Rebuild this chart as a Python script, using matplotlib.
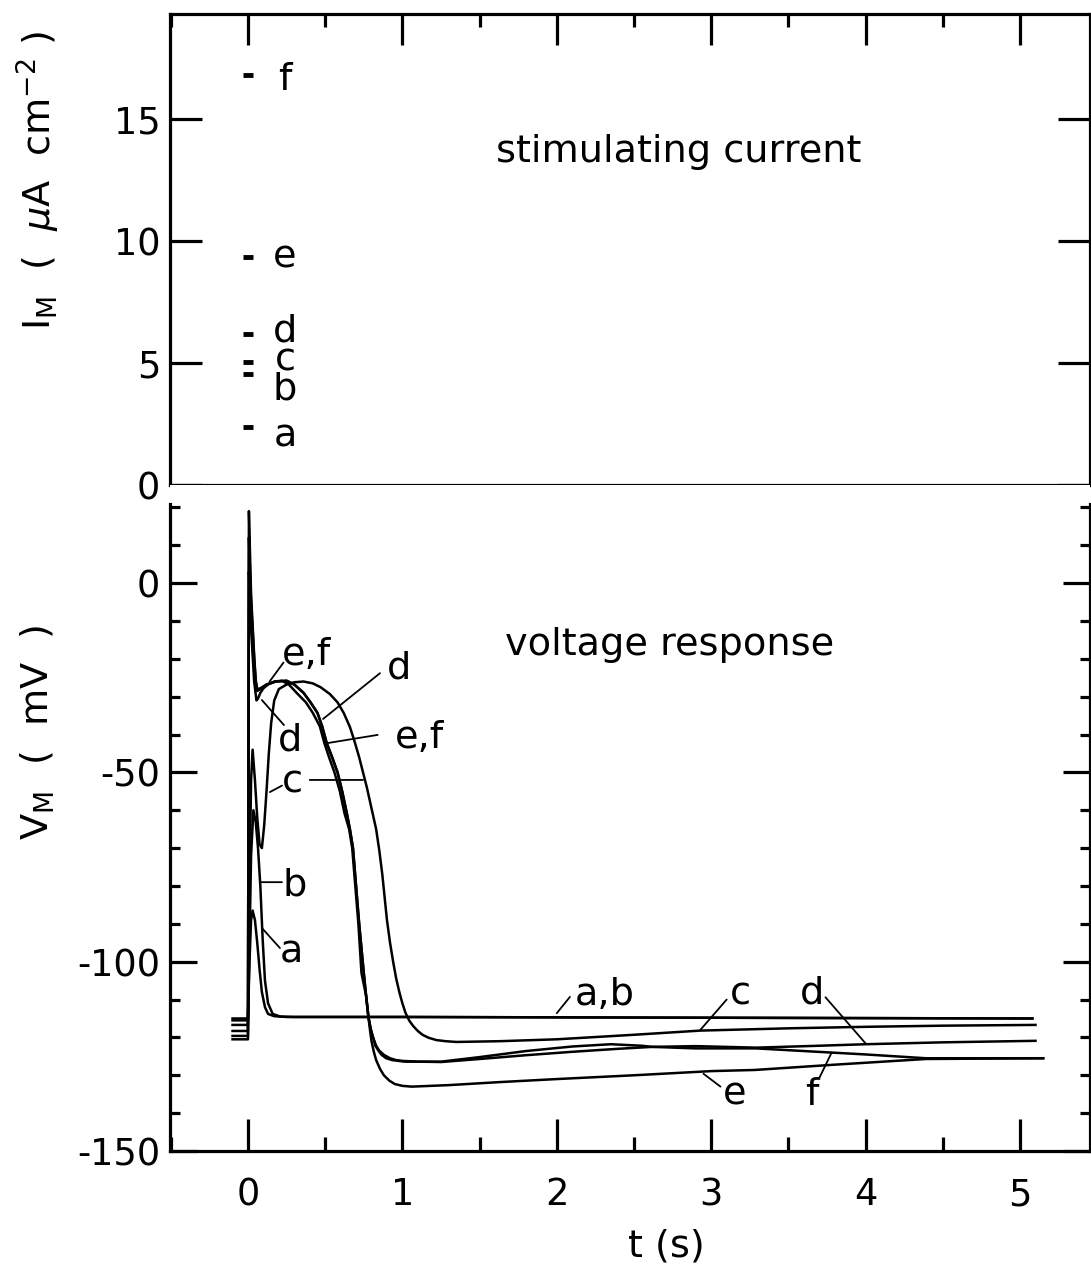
import numpy as np
import matplotlib
matplotlib.use("Agg")
import matplotlib.pyplot as plt
from matplotlib.ticker import MultipleLocator

plt.rcParams['font.family'] = ['DejaVu Sans']
plt.rcParams['axes.unicode_minus'] = False
plt.rcParams['mathtext.fontset'] = 'dejavusans'

# stimulating current amplitudes (uA/cm2), short pulses at t = 0
stim_names = ['a', 'b', 'c', 'd', 'e', 'f']
stim_levels = [2.38, 4.53, 5.06, 6.19, 9.34, 16.8]
stim_t0, stim_t1 = -0.03, 0.03

# membrane voltage responses (t in s, V in mV)
t_a = [-0.1, 0.0, 0.01, 0.02, 0.03, 0.045, 0.06, 0.075, 0.09, 0.11, 0.13, 0.17, 0.25, 1.0, 2.0, 3.0, 4.0, 5.08]
v_a = [-115.0, -115.0, -100.0, -89.0, -86.5, -89.0, -95.0, -102.0, -108.0, -112.0, -113.8, -114.4, -114.6,
       -114.6, -114.7, -114.8, -114.9, -115.0]

t_b = [-0.1, 0.0, 0.01, 0.02, 0.035, 0.05, 0.065, 0.08, 0.095, 0.11, 0.13, 0.16, 0.21, 0.3, 1.0, 3.0, 5.08]
v_b = [-115.5, -115.5, -95.0, -72.0, -60.0, -63.0, -70.0, -80.0, -94.0, -105.0, -111.0, -113.8, -114.5,
       -114.6, -114.6, -114.8, -115.0]

t_c = [-0.1, 0.0, 0.01, 0.02, 0.03, 0.045, 0.06, 0.075, 0.09, 0.105, 0.12, 0.135, 0.15, 0.17, 0.2, 0.25, 0.3,
       0.36, 0.42, 0.47, 0.53, 0.58, 0.62, 0.66, 0.69, 0.72, 0.745, 0.77, 0.8, 0.83, 0.85, 0.87, 0.885, 0.9,
       0.92, 0.94, 0.96, 0.98, 1.0, 1.02, 1.045, 1.07, 1.1, 1.13, 1.17, 1.22, 1.28, 1.35, 1.63, 2.0, 2.5,
       2.93, 3.5, 4.0, 4.5, 5.1]
v_c = [-116.7, -116.7, -80.0, -52.0, -44.0, -52.0, -62.0, -69.0, -70.0, -64.0, -55.0, -45.0, -37.0, -31.0,
       -28.0, -26.8, -26.2, -26.0, -26.5, -27.5, -29.3, -31.5, -34.3, -38.0, -41.8, -46.0, -50.0, -54.0,
       -59.5, -65.0, -70.5, -77.0, -83.0, -89.0, -95.0, -100.0, -104.5, -108.0, -111.0, -113.5, -115.6,
       -117.0, -118.3, -119.3, -120.1, -120.7, -121.0, -121.2, -121.0, -120.5, -119.3, -118.2, -117.6,
       -117.2, -116.9, -116.7]

t_d = [-0.1, 0.0, 0.006, 0.02, 0.04, 0.055, 0.065, 0.08, 0.1, 0.13, 0.17, 0.22, 0.265, 0.315, 0.375, 0.42,
       0.465, 0.495, 0.525, 0.56, 0.595, 0.625, 0.655, 0.675, 0.695, 0.715, 0.735, 0.765, 0.78, 0.795,
       0.81, 0.825, 0.845, 0.865, 0.895, 0.935, 0.975, 1.015, 1.1, 1.25, 1.5, 1.8, 2.1, 2.4, 2.62, 2.9,
       3.29, 3.7, 4.0, 4.5, 5.1]
v_d = [-118.3, -118.3, 3.0, -12.0, -26.0, -31.0, -30.5, -29.0, -27.8, -26.8, -26.0, -25.8, -26.8, -29.0,
       -31.5, -34.3, -37.8, -42.3, -46.0, -50.0, -55.0, -60.8, -65.0, -70.0, -80.0, -90.0, -103.0, -109.0,
       -114.6, -117.8, -120.0, -122.2, -123.5, -124.6, -125.5, -126.0, -126.2, -126.4, -126.4, -126.5,
       -125.7, -124.7, -123.8, -123.0, -122.5, -122.3, -122.7, -122.2, -121.8, -121.3, -120.9]

t_e = [-0.1, 0.0, 0.006, 0.02, 0.04, 0.05, 0.06, 0.08, 0.12, 0.18, 0.25, 0.3, 0.36, 0.405, 0.45, 0.48, 0.51,
       0.545, 0.58, 0.61, 0.64, 0.66, 0.68, 0.7, 0.72, 0.75, 0.765, 0.78, 0.79, 0.8, 0.815, 0.83, 0.855,
       0.88, 0.915, 0.95, 1.0, 1.06, 1.3, 1.63, 2.0, 2.5, 3.0, 3.28, 3.8, 4.39, 5.15]
v_e = [-119.6, -119.6, 12.0, -5.0, -20.0, -26.0, -28.5, -28.0, -26.8, -26.0, -25.8, -26.8, -29.0, -31.5,
       -34.3, -37.8, -42.3, -46.0, -50.0, -55.0, -60.8, -65.0, -70.0, -80.0, -90.0, -103.0, -109.0, -114.6,
       -118.0, -121.0, -123.8, -126.0, -128.3, -130.0, -131.4, -132.3, -132.8, -133.0, -132.6, -131.8,
       -131.0, -130.0, -128.9, -128.6, -127.2, -125.7, -125.5]

t_f = [-0.1, 0.0, 0.006, 0.02, 0.04, 0.05, 0.06, 0.08, 0.12, 0.18, 0.25, 0.3, 0.36, 0.405, 0.45, 0.48, 0.51,
       0.545, 0.58, 0.61, 0.64, 0.66, 0.68, 0.7, 0.72, 0.75, 0.765, 0.78, 0.795, 0.81, 0.83, 0.85, 0.88,
       0.92, 0.96, 1.0, 1.1, 1.25, 1.5, 1.8, 2.1, 2.35, 2.55, 2.62, 2.9, 3.29, 3.6, 4.0, 4.39, 5.15]
v_f = [-120.5, -120.5, 19.0, -3.0, -19.0, -25.5, -28.0, -27.8, -26.8, -26.0, -25.8, -26.8, -29.0, -31.5,
       -34.3, -37.8, -42.3, -46.0, -50.0, -55.0, -60.8, -65.0, -70.0, -80.0, -90.0, -103.0, -109.0, -114.6,
       -117.8, -120.0, -122.2, -123.5, -124.6, -125.5, -126.0, -126.2, -126.4, -126.4, -125.2, -123.6,
       -122.4, -121.8, -122.2, -122.5, -122.9, -122.9, -123.6, -124.5, -125.5, -125.5]

traces = [(t_a, v_a), (t_b, v_b), (t_c, v_c), (t_d, v_d), (t_e, v_e), (t_f, v_f)]

W, H = 1091, 1267
fig = plt.figure(figsize=(W / 100, H / 100), dpi=100)
ax_i = fig.add_axes([170 / W, 1 - 485 / H, 920 / W, (485 - 14) / H])
ax_v = fig.add_axes([170 / W, 1 - 1151 / H, 920 / W, (1151 - 485) / H])

xlim = (-0.505, 5.453)
FS = 26.5      # tick labels
FT = 27.5      # curve labels and captions
LW_AX = 2.3

# ---- top panel: stimulating current ----
for lev in stim_levels:
    ax_i.hlines(lev, stim_t0, stim_t1, color='black', lw=3.5)
stim_label_y = [2.0, 3.9, 5.1, 6.3, 9.34, 16.6]
for name, y in zip(stim_names, stim_label_y):
    ax_i.text(0.24, y, name, fontsize=FT, ha='center', va='center')
ax_i.text(2.79, 13.65, 'stimulating current', fontsize=FT, ha='center', va='center')

ax_i.set_xlim(*xlim)
ax_i.set_ylim(0, 19.3)
ax_i.yaxis.set_major_locator(MultipleLocator(5))
ax_i.xaxis.set_major_locator(MultipleLocator(1))
ax_i.xaxis.set_minor_locator(MultipleLocator(0.5))
ax_i.tick_params(axis='y', which='major', direction='in', length=23, width=LW_AX,
                 left=True, right=True, labelleft=True, labelsize=FS, pad=7)
ax_i.tick_params(axis='x', which='both', direction='in', top=True, bottom=False,
                 labelbottom=False, labeltop=False, width=LW_AX)
ax_i.tick_params(axis='x', which='major', length=22)
ax_i.tick_params(axis='x', which='minor', length=9.5)
for s in ax_i.spines.values():
    s.set_linewidth(LW_AX)

# ---- bottom panel: voltage response ----
for t, v in traces:
    ax_v.plot(t, v, color='black', lw=1.8, solid_joinstyle='round')

ax_v.set_xlim(*xlim)
ax_v.set_ylim(-150, 25.9)
ax_v.spines['top'].set_visible(False)
ax_v.spines['left'].set_bounds(-150, 21)
ax_v.spines['right'].set_bounds(-150, 21)
for s in ax_v.spines.values():
    s.set_linewidth(LW_AX)
ax_v.yaxis.set_major_locator(MultipleLocator(50))
ax_v.yaxis.set_minor_locator(MultipleLocator(10))
ax_v.xaxis.set_major_locator(MultipleLocator(1))
ax_v.xaxis.set_minor_locator(MultipleLocator(0.5))
ax_v.tick_params(axis='y', which='both', direction='in', left=True, right=True, width=LW_AX,
                 labelsize=FS, pad=7)
ax_v.tick_params(axis='y', which='major', length=19.5)
ax_v.tick_params(axis='y', which='minor', length=7)
ax_v.tick_params(axis='x', which='both', direction='in', top=False, width=LW_AX,
                 labelsize=FS, pad=18)
ax_v.tick_params(axis='x', which='major', length=23)
ax_v.tick_params(axis='x', which='minor', length=10)

ax_v.text(2.73, -16.4, 'voltage response', fontsize=FT, ha='center', va='center')

ptr = dict(arrowstyle='-', lw=1.3, color='black', shrinkA=0, shrinkB=0)


def tag(label, xy_text, start, end):
    ax_v.text(xy_text[0], xy_text[1], label, fontsize=FT, ha='center', va='center')
    ax_v.annotate('', xy=end, xytext=start, arrowprops=ptr)


tag('e,f', (0.38, -19.0), (0.23, -21.0), (0.14, -26.0))
tag('d', (0.27, -41.5), (0.233, -37.5), (0.09, -30.9))
tag('d', (0.98, -22.5), (0.855, -23.8), (0.486, -35.9))
tag('e,f', (1.11, -41.0), (0.84, -40.1), (0.51, -42.3))
tag('c', (0.285, -52.6), (0.40, -52.0), (0.745, -52.0))
ax_v.annotate('', xy=(0.142, -55.2), xytext=(0.22, -53.5), arrowprops=ptr)
tag('b', (0.30, -79.8), (0.22, -79.0), (0.078, -79.0))
tag('a', (0.28, -97.5), (0.207, -96.4), (0.09, -91.1))
tag('a,b', (2.31, -108.8), (2.085, -109.3), (2.0, -113.6))
tag('c', (3.19, -108.6), (3.10, -110.0), (2.93, -118.0))
tag('d', (3.65, -108.3), (3.74, -109.4), (4.0, -121.6))
tag('e', (3.15, -135.0), (2.95, -129.6), (3.06, -133.0))
tag('f', (3.65, -135.2), (3.70, -130.7), (3.78, -124.0))

fig.text(38 / W, 1 - 180 / H, r'I$_\mathregular{M}$  (  $\mu$A  cm$^{-2}$ )', fontsize=FT,
         rotation=90, ha='center', va='center')
fig.text(38 / W, 1 - 732 / H, r'V$_\mathregular{M}$  (  mV  )', fontsize=FT,
         rotation=90, ha='center', va='center')
fig.text(666 / W, 1 - 1246 / H, 't (s)', fontsize=FT, ha='center', va='center')

fig.savefig('out.png', dpi=100)
